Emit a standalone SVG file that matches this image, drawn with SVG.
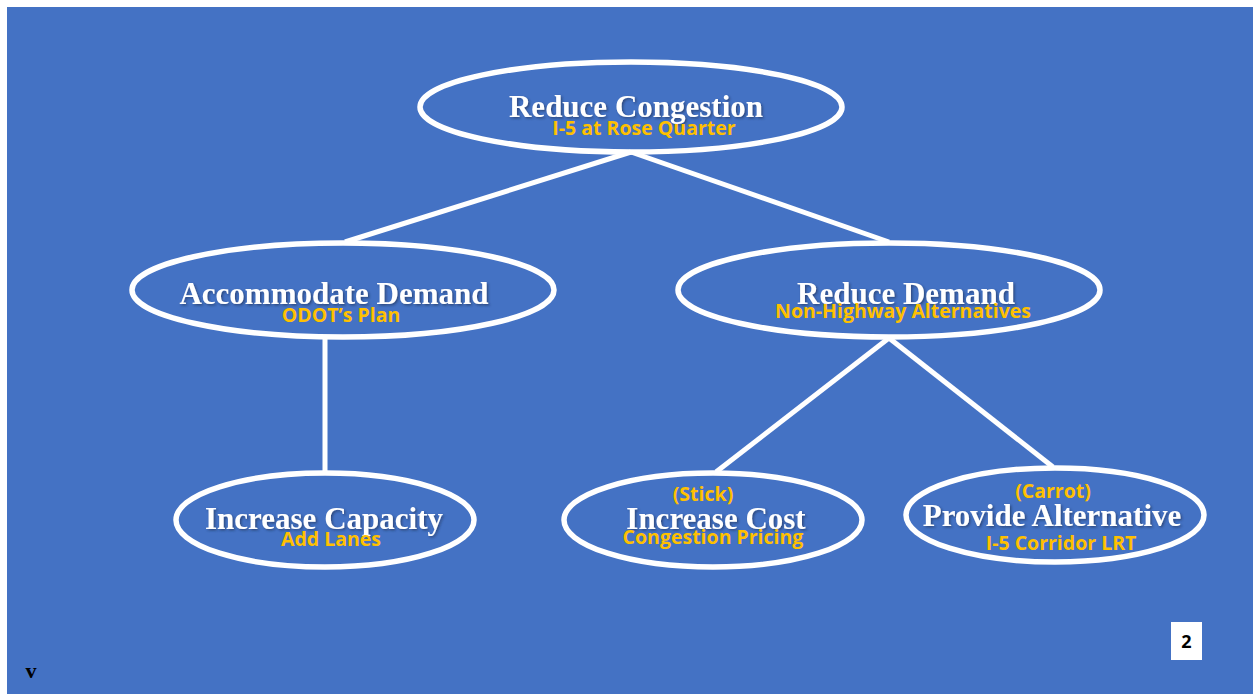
<svg xmlns="http://www.w3.org/2000/svg" width="1253" height="694" viewBox="0 0 1253 694">
<defs>
<filter id="sh" x="-10%" y="-30%" width="120%" height="160%">
<feDropShadow dx="1.5" dy="1.5" stdDeviation="1" flood-color="#1a2a50" flood-opacity="0.6"/>
</filter>
</defs>
<style>
.node ellipse{fill:none;stroke:#fff;stroke-width:5.5}
.t{font-family:"Liberation Serif",serif;font-weight:bold;font-size:31px;fill:#fff;text-anchor:middle;filter:url(#sh)}
.s{font-family:"Open Sans","Noto Sans",sans-serif;font-weight:bold;font-size:19.5px;fill:#FFC000;text-anchor:middle}
.edges line{stroke:#fff;stroke-width:5}
</style>
<rect x="0" y="0" width="1253" height="694" fill="#fff"/>
<rect x="7" y="7" width="1246" height="687" fill="#4472C4"/>
<g class="edges">
<line x1="631" y1="152" x2="345" y2="242"/>
<line x1="631" y1="152" x2="889" y2="242"/>
<line x1="325" y1="338" x2="325" y2="472"/>
<line x1="889" y1="338" x2="716" y2="472"/>
<line x1="889" y1="338" x2="1053" y2="467"/>
</g>
<g id="n-top" class="node">
<ellipse cx="631" cy="107" rx="211" ry="45"/>
<text class="t" x="636" y="117">Reduce Congestion</text>
<text class="s" x="644" y="135">I-5 at Rose Quarter</text>
</g>
<g id="n-accommodate" class="node">
<ellipse cx="343" cy="290" rx="211" ry="47"/>
<text class="t" x="334" y="304">Accommodate Demand</text>
<text class="s" x="341" y="322">ODOT’s Plan</text>
</g>
<g id="n-reduce" class="node">
<ellipse cx="889" cy="290" rx="211" ry="47"/>
<text class="t" x="906" y="304">Reduce Demand</text>
<text class="s" x="903" y="318">Non-Highway Alternatives</text>
</g>
<g id="n-capacity" class="node">
<ellipse cx="325" cy="520" rx="149" ry="47"/>
<text class="t" x="324" y="529">Increase Capacity</text>
<text class="s" x="331" y="546">Add Lanes</text>
</g>
<g id="n-cost" class="node">
<ellipse cx="713" cy="520" rx="149" ry="47"/>
<text class="s" x="703" y="501">(Stick)</text>
<text class="t" x="716" y="529">Increase Cost</text>
<text class="s" x="713" y="544">Congestion Pricing</text>
</g>
<g id="n-alt" class="node">
<ellipse cx="1055" cy="515" rx="149" ry="47"/>
<text class="s" x="1053" y="498">(Carrot)</text>
<text class="t" x="1052" y="526">Provide Alternative</text>
<text class="s" x="1061" y="550">I-5 Corridor LRT</text>
</g>
<g id="page">
<rect x="1171" y="622" width="31" height="38" fill="#fff"/>
<text x="1186.5" y="648" font-family="'Open Sans',sans-serif" font-weight="bold" font-size="18" text-anchor="middle" fill="#000">2</text>
</g>
<text x="31" y="678" font-family="'Liberation Serif',serif" font-weight="bold" font-size="22" text-anchor="middle" fill="#000">v</text>
</svg>
